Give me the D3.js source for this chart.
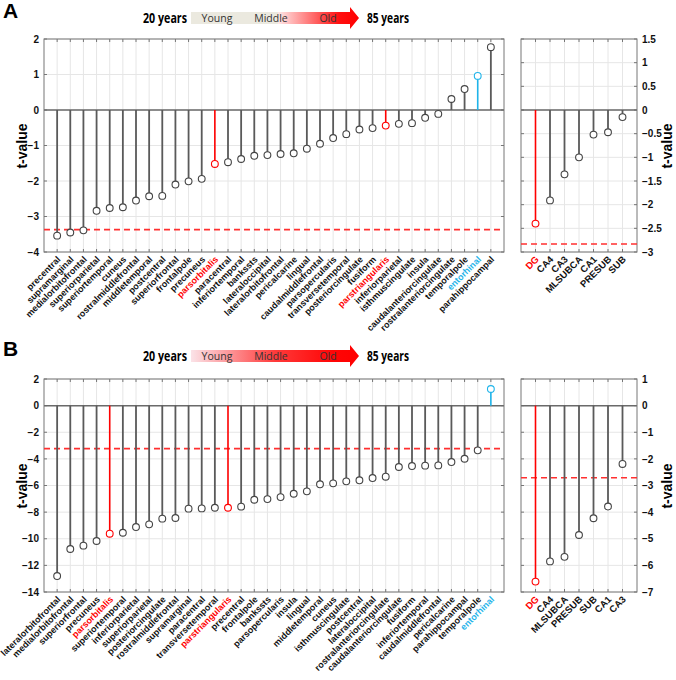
<!DOCTYPE html>
<html><head><meta charset="utf-8">
<script src="https://cdn.jsdelivr.net/npm/d3@7"></script>
<style>body{margin:0;background:#fff}svg{display:block}</style>
</head><body>
<svg id="chart" width="676" height="680"></svg>
<script>
// ---------- DATA ----------
const regionsA = ["precentral","supramarginal","medialorbitofrontal","superiorparietal","superiortemporal","cuneus","rostralmiddlefrontal","middletemporal","postcentral","superiorfrontal","frontalpole","precuneus","parsorbitalis","paracentral","inferiortemporal","bankssts","lateraloccipital","lateralorbitofrontal","pericalcarine","lingual","caudalmiddlefrontal","parsopercularis","transversetemporal","posteriorcingulate","fusiform","parstriangularis","inferiorparietal","isthmuscingulate","insula","caudalanteriorcingulate","rostralanteriorcingulate","temporalpole","entorhinal","parahippocampal"];
const tA = [-3.54,-3.45,-3.39,-2.84,-2.76,-2.74,-2.55,-2.43,-2.42,-2.10,-2.01,-1.94,-1.52,-1.47,-1.38,-1.29,-1.27,-1.24,-1.22,-1.09,-0.95,-0.79,-0.68,-0.55,-0.51,-0.44,-0.39,-0.37,-0.22,-0.11,0.31,0.59,0.96,1.77];
const hippA = ["DG","CA4","CA3","MLSUBCA","CA1","PRESUB","SUB"];
const tHippA = [-2.40,-1.91,-1.36,-1.00,-0.52,-0.47,-0.15];
const threshA = -3.37, threshHippA = -2.83;
const yTicksA = [2,1,0,-1,-2,-3,-4];
const yTicksHippA = [1.5,1,0.5,0,-0.5,-1,-1.5,-2,-2.5,-3];

const regionsB = ["lateralorbitofrontal","medialorbitofrontal","superiorfrontal","precuneus","parsorbitalis","superiortemporal","inferiorparietal","superiorparietal","posteriorcingulate","rostralmiddlefrontal","supramarginal","paracentral","transversetemporal","parstriangularis","precentral","frontalpole","bankssts","parsopercularis","insula","lingual","middletemporal","cuneus","isthmuscingulate","postcentral","lateraloccipital","rostralanteriorcingulate","caudalanteriorcingulate","fusiform","inferiortemporal","caudalmiddlefrontal","pericalcarine","parahippocampal","temporalpole","entorhinal"];
const tB = [-12.80,-10.77,-10.52,-10.17,-9.62,-9.55,-9.12,-8.92,-8.49,-8.44,-7.74,-7.72,-7.67,-7.67,-7.59,-7.07,-7.02,-6.87,-6.62,-6.44,-5.91,-5.84,-5.69,-5.61,-5.44,-5.34,-4.61,-4.54,-4.51,-4.49,-4.24,-3.99,-3.36,1.25];
const hippB = ["DG","CA4","MLSUBCA","PRESUB","SUB","CA1","CA3"];
const tHippB = [-6.61,-5.85,-5.68,-4.86,-4.23,-3.79,-2.19];
const threshB = -3.23, threshHippB = -2.71;
const yTicksB = [2,0,-2,-4,-6,-8,-10,-12,-14];
const yTicksHippB = [1,0,-1,-2,-3,-4,-5,-6,-7];

const redNames = ["parsorbitalis","parstriangularis","DG"];
const blueNames = ["entorhinal"];
const ageLabels = ["Young","Middle","Old"];
const ageEnds = ["20 years","85 years"];
const panelLetters = ["A","B"];

// ---------- STYLE ----------
const RED = "#ff0000", BLUE = "#1fb4ea", GRAY = "#5a5a5a";
const colorOf = n => redNames.includes(n) ? RED : blueNames.includes(n) ? BLUE : GRAY;
const labelColorOf = n => redNames.includes(n) ? RED : blueNames.includes(n) ? BLUE : "#111";
const FONT = "'Liberation Sans', Arial, Helvetica, sans-serif";

const svg = d3.select("#chart");
const defs = svg.append("defs");

const gA = defs.append("linearGradient").attr("id","gradA").attr("x1","0").attr("x2","1");
gA.append("stop").attr("offset","0").attr("stop-color","#ebe9df");
gA.append("stop").attr("offset","0.515").attr("stop-color","#ebe9df");
gA.append("stop").attr("offset","0.52").attr("stop-color","#ffe6e6");
gA.append("stop").attr("offset","0.88").attr("stop-color","#ff1010");
gA.append("stop").attr("offset","1").attr("stop-color","#ff0000");
const gB = defs.append("linearGradient").attr("id","gradB").attr("x1","0").attr("x2","1");
gB.append("stop").attr("offset","0").attr("stop-color","#fbe3e8");
gB.append("stop").attr("offset","0.5").attr("stop-color","#ff3a3a");
gB.append("stop").attr("offset","0.85").attr("stop-color","#ff0505");
gB.append("stop").attr("offset","1").attr("stop-color","#ff0000");

function header(top, letter, grad) {
  const g = svg.append("g");
  g.append("text").attr("x",3).attr("y",top+18).text(letter)
    .attr("font-family",FONT).attr("font-weight","bold").attr("font-size",21).attr("fill","#000");
  const cy = top + 18;
  g.append("text").attr("x",165).attr("y",cy+5).attr("text-anchor","middle").text(ageEnds[0])
    .attr("font-family","'Open Sans',sans-serif").attr("font-weight","bold").attr("font-size",14)
    .attr("textLength",44).attr("lengthAdjust","spacingAndGlyphs");
  g.append("text").attr("x",388).attr("y",cy+5).attr("text-anchor","middle").text(ageEnds[1])
    .attr("font-family","'Open Sans',sans-serif").attr("font-weight","bold").attr("font-size",14)
    .attr("textLength",42).attr("lengthAdjust","spacingAndGlyphs");
  g.append("path").attr("d",`M191,${cy-6}H350V${cy-11}L359,${cy}L350,${cy+11}V${cy+6}H191Z`)
    .attr("fill",`url(#${grad})`);
  const xs = [217,271,328];
  ageLabels.forEach((t,i)=>{
    g.append("text").attr("x",xs[i]).attr("y",cy+4).attr("text-anchor","middle").text(t)
      .attr("font-family","'Open Sans',sans-serif").attr("font-size",10.5).attr("fill","#333");
  });
}

function stemPlot(opts) {
  const {x0,x1,y0,y1,names,vals,domain,ticks,thresh,side,labelSize} = opts;
  const g = svg.append("g");
  const x = d3.scaleLinear().domain([0,names.length+1]).range([x0,x1]);
  const y = d3.scaleLinear().domain(domain).range([y0,y1]);
  const idx = d3.range(1,names.length+1);
  // grid
  g.selectAll(".vg").data(idx).join("line").attr("x1",d=>x(d)).attr("x2",d=>x(d))
    .attr("y1",y0).attr("y2",y1).attr("stroke","#e6e6e6").attr("stroke-width",1);
  g.selectAll(".hg").data(ticks).join("line").attr("x1",x0).attr("x2",x1)
    .attr("y1",d=>y(d)).attr("y2",d=>y(d)).attr("stroke","#e6e6e6").attr("stroke-width",1);
  // axes with library generators
  const axL = side==="left" ? d3.axisLeft(y) : d3.axisRight(y);
  const ax = g.append("g").attr("transform",`translate(${side==="left"?x0:x1},0)`)
    .call(axL.tickValues(ticks).tickSize(0).tickPadding(5).tickFormat(d3.format("")));
  ax.select(".domain").remove();
  ax.selectAll("text").attr("font-family",FONT).attr("font-weight","bold").attr("font-size",10).attr("fill","#111");
  // inward ticks
  [y0,y1].forEach((yy,k)=>{
    g.selectAll(null).data(idx).join("line").attr("x1",d=>x(d)).attr("x2",d=>x(d))
      .attr("y1",yy).attr("y2",k===0?yy+3:yy-3).attr("stroke","#777");
  });
  [x0,x1].forEach((xx,k)=>{
    g.selectAll(null).data(ticks).join("line").attr("y1",d=>y(d)).attr("y2",d=>y(d))
      .attr("x1",xx).attr("x2",k===0?xx+3:xx-3).attr("stroke","#777");
  });
  // zero line
  g.append("line").attr("x1",x0).attr("x2",x1).attr("y1",y(0)).attr("y2",y(0))
    .attr("stroke","#6a6a6a").attr("stroke-width",1.5);
  // box
  g.append("rect").attr("x",x0).attr("y",y0).attr("width",x1-x0).attr("height",y1-y0)
    .attr("fill","none").attr("stroke","#777").attr("stroke-width",1);
  // threshold
  g.append("line").attr("x1",x0).attr("x2",x1).attr("y1",y(thresh)).attr("y2",y(thresh))
    .attr("stroke","#ff3030").attr("stroke-width",1.6).attr("stroke-dasharray","6,4");
  // stems
  const data = names.map((n,i)=>({n, v:vals[i], i:i+1}));
  g.selectAll(".stem").data(data).join("line").attr("x1",d=>x(d.i)).attr("x2",d=>x(d.i))
    .attr("y1",y(0)).attr("y2",d=>y(d.v)).attr("stroke",d=>colorOf(d.n)).attr("stroke-width",d=>colorOf(d.n)===GRAY?1.8:1.6);
  g.selectAll(".mk").data(data).join("circle").attr("cx",d=>x(d.i)).attr("cy",d=>y(d.v))
    .attr("r",3.4).attr("fill","#fff").attr("stroke",d=>colorOf(d.n)===GRAY?"#444":colorOf(d.n)).attr("stroke-width",1.1);
  // category labels
  g.selectAll(".cl").data(data).join("text")
    .attr("transform",d=>`translate(${x(d.i)+4},${y1+8}) rotate(-45)`)
    .attr("text-anchor","end").text(d=>d.n)
    .attr("font-family",FONT).attr("font-weight","bold").attr("font-size",labelSize)
    .attr("fill",d=>labelColorOf(d.n));
  return g;
}

function yTitle(xc, yc) {
  svg.append("text").attr("transform",`translate(${xc},${yc}) rotate(-90)`)
    .attr("text-anchor","middle").text("t-value")
    .attr("font-family",FONT).attr("font-weight","bold").attr("font-size",14).attr("fill","#000");
}

// Panel A
header(0, panelLetters[0], "gradA");
stemPlot({x0:44,x1:504,y0:39,y1:252,names:regionsA,vals:tA,domain:[2,-4],ticks:yTicksA,thresh:threshA,side:"left",labelSize:9});
stemPlot({x0:521,x1:637,y0:39,y1:252,names:hippA,vals:tHippA,domain:[1.5,-3],ticks:yTicksHippA,thresh:threshHippA,side:"right",labelSize:9.5});
yTitle(27,146); yTitle(672,146);

// Panel B
header(338, panelLetters[1], "gradB");
stemPlot({x0:44,x1:504,y0:379,y1:592,names:regionsB,vals:tB,domain:[2,-14],ticks:yTicksB,thresh:threshB,side:"left",labelSize:9});
stemPlot({x0:521,x1:637,y0:379,y1:592,names:hippB,vals:tHippB,domain:[1,-7],ticks:yTicksHippB,thresh:threshHippB,side:"right",labelSize:9.5});
yTitle(27,486); yTitle(672,486);
</script>
</body></html>
